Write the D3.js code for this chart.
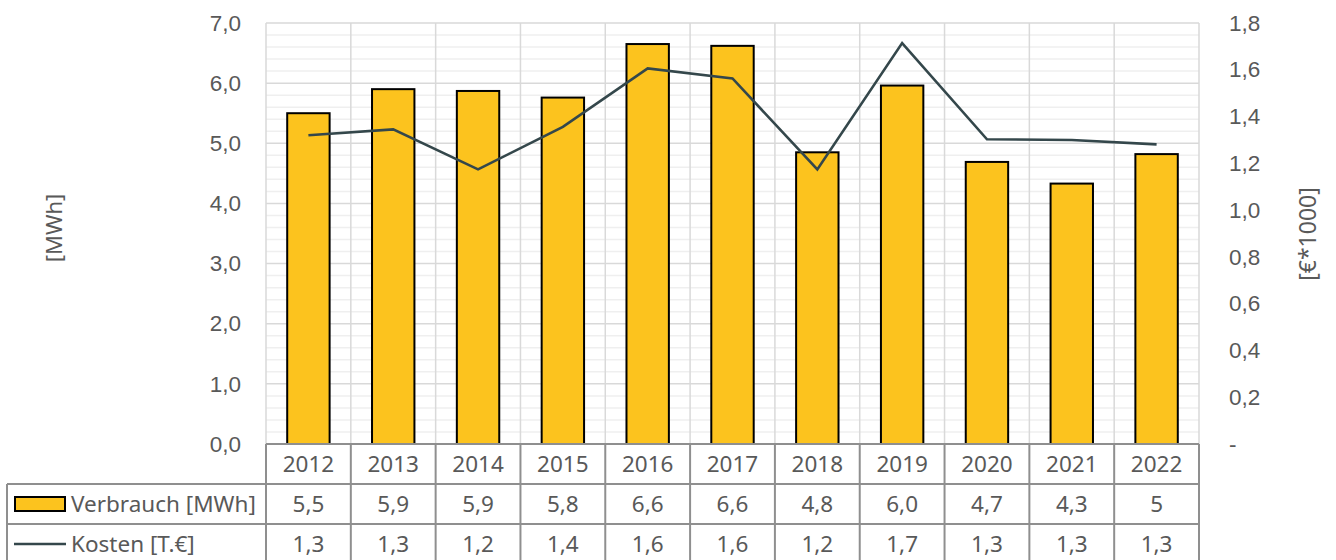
<!DOCTYPE html>
<html>
<head>
<meta charset="utf-8">
<script src="https://cdn.jsdelivr.net/npm/d3@7"></script>
<style>
  html, body { margin: 0; padding: 0; background: #fff; }
  svg { display: block; font-family: "Noto Sans", "DejaVu Sans", sans-serif; }
  .lbl { fill: #595959; font-size: 22.5px; }
</style>
</head>
<body>
<svg id="chart" width="1336" height="560"></svg>
<script>
// Jahre
const years = ["2012","2013","2014","2015","2016","2017","2018","2019","2020","2021","2022"];
// Stromverbrauch in MWh
const verbrauch = [5.50, 5.90, 5.87, 5.76, 6.65, 6.62, 4.85, 5.96, 4.69, 4.33, 4.82];
// Kosten in Tausend Euro
const kosten = [1.32, 1.345, 1.174, 1.356, 1.606, 1.563, 1.174, 1.714, 1.303, 1.30, 1.281];
// Werte in der Datentabelle
const verbrauchLabels = ["5,5","5,9","5,9","5,8","6,6","6,6","4,8","6,0","4,7","4,3","5"];
const kostenLabels = ["1,3","1,3","1,2","1,4","1,6","1,6","1,2","1,7","1,3","1,3","1,3"];
// Achsenticks
const leftTicks = [0, 1, 2, 3, 4, 5, 6, 7];
const rightTicks = [0, 0.2, 0.4, 0.6, 0.8, 1.0, 1.2, 1.4, 1.6, 1.8];
const seriesNames = ["Verbrauch [MWh]", "Kosten [T.€]"];

const de = d3.formatLocale({decimal: ",", thousands: ".", grouping: [3], currency: ["", " €"]});
const f1 = de.format(".1f");

const svg = d3.select("#chart");
const plot = {left: 266, right: 1199, top: 23, bottom: 444};
const rowH = 40;

const x = d3.scaleBand().domain(years).range([plot.left, plot.right]).padding(0);
const yL = d3.scaleLinear().domain([0, 7]).range([plot.bottom, plot.top]);
const yR = d3.scaleLinear().domain([0, 1.8]).range([plot.bottom, plot.top]);

const barColor = "#FCC31E";
const lineColor = "#34474B";
const gridMajor = "#d9d9d9";
const gridMinor = "#efefef";
const tableLine = "#8f8f8f";

// Hilfsgitter (0,2er Schritte)
const minorVals = d3.range(0, 7.0001, 0.2).filter(v => Math.abs(v - Math.round(v)) > 1e-6);
svg.append("g")
  .selectAll("line").data(minorVals).join("line")
  .attr("x1", plot.left).attr("x2", plot.right)
  .attr("y1", d => yL(d)).attr("y2", d => yL(d))
  .attr("stroke", gridMinor).attr("stroke-width", 1.5);

// Hauptgitter horizontal
svg.append("g")
  .selectAll("line").data(leftTicks).join("line")
  .attr("x1", plot.left).attr("x2", plot.right)
  .attr("y1", d => yL(d)).attr("y2", d => yL(d))
  .attr("stroke", gridMajor).attr("stroke-width", 1.5);

// Gitter vertikal an den Kategoriegrenzen
const bounds = years.map(y => x(y)).concat([plot.right]);
svg.append("g")
  .selectAll("line").data(bounds).join("line")
  .attr("x1", d => d).attr("x2", d => d)
  .attr("y1", plot.top).attr("y2", plot.bottom)
  .attr("stroke", gridMajor).attr("stroke-width", 1.5);

// Säulen
const bw = x.bandwidth() * 0.5;
svg.append("g")
  .selectAll("rect").data(years).join("rect")
  .attr("x", d => x(d) + (x.bandwidth() - bw) / 2)
  .attr("width", bw)
  .attr("y", (d, i) => yL(verbrauch[i]))
  .attr("height", (d, i) => yL(0) - yL(verbrauch[i]))
  .attr("fill", barColor)
  .attr("stroke", "#000").attr("stroke-width", 2);

// Kostenlinie
const line = d3.line()
  .x((d, i) => x(years[i]) + x.bandwidth() / 2)
  .y(d => yR(d));
svg.append("path")
  .datum(kosten)
  .attr("d", line)
  .attr("fill", "none")
  .attr("stroke", lineColor)
  .attr("stroke-width", 2.6)
  .attr("stroke-linejoin", "miter");

// Linke Achse
const axL = svg.append("g")
  .attr("transform", `translate(${plot.left},0)`)
  .call(d3.axisLeft(yL).tickValues(leftTicks).tickSize(0).tickPadding(25).tickFormat(f1));
axL.select(".domain").remove();
axL.selectAll("text").attr("class", "lbl").attr("font-size", null).attr("font-family", null);

// Rechte Achse
const axR = svg.append("g")
  .attr("transform", `translate(${plot.right},0)`)
  .call(d3.axisRight(yR).tickValues(rightTicks).tickSize(0).tickPadding(30)
    .tickFormat(d => d === 0 ? "-" : f1(d)));
axR.select(".domain").remove();
axR.selectAll("text").attr("class", "lbl").attr("font-size", null).attr("font-family", null);

// Achsentitel
svg.append("text").attr("class", "lbl")
  .attr("transform", "translate(62,228) rotate(-90)")
  .attr("text-anchor", "middle")
  .style("font-size", "22px")
  .text("[MWh]");
svg.append("text").attr("class", "lbl")
  .attr("transform", "translate(1316,234) rotate(-90)")
  .attr("text-anchor", "middle")
  .style("font-size", "23px")
  .text("[€*1000]");

// Datentabelle
const tbl = svg.append("g");
const legLeft = 7;
const r0 = plot.bottom, r1 = r0 + rowH, r2 = r1 + rowH, r3 = r2 + rowH;

// horizontale Linien
tbl.append("line").attr("x1", plot.left).attr("x2", plot.right).attr("y1", r0).attr("y2", r0);
tbl.append("line").attr("x1", legLeft).attr("x2", plot.right).attr("y1", r1).attr("y2", r1);
tbl.append("line").attr("x1", legLeft).attr("x2", plot.right).attr("y1", r2).attr("y2", r2);
tbl.append("line").attr("x1", legLeft).attr("x2", plot.right).attr("y1", r3).attr("y2", r3);
// vertikale Linien
tbl.selectAll("line.v").data(bounds).join("line").attr("class", "v")
  .attr("x1", d => d).attr("x2", d => d).attr("y1", r0).attr("y2", r3);
tbl.append("line").attr("x1", legLeft).attr("x2", legLeft).attr("y1", r1).attr("y2", r3);
tbl.selectAll("line").attr("stroke", tableLine).attr("stroke-width", 2);

const cx = d => x(d) + x.bandwidth() / 2;
tbl.append("g").selectAll("text").data(years).join("text")
  .attr("class", "lbl").attr("x", cx).attr("y", (r0 + r1) / 2 + 8)
  .attr("text-anchor", "middle").text(d => d);
tbl.append("g").selectAll("text").data(verbrauchLabels).join("text")
  .attr("class", "lbl").attr("x", (d, i) => cx(years[i])).attr("y", (r1 + r2) / 2 + 8)
  .attr("text-anchor", "middle").text(d => d);
tbl.append("g").selectAll("text").data(kostenLabels).join("text")
  .attr("class", "lbl").attr("x", (d, i) => cx(years[i])).attr("y", (r2 + r3) / 2 + 8)
  .attr("text-anchor", "middle").text(d => d);

// Legendenschlüssel
tbl.append("rect")
  .attr("x", 15).attr("y", (r1 + r2) / 2 - 7).attr("width", 50).attr("height", 14)
  .attr("fill", barColor).attr("stroke", "#000").attr("stroke-width", 2);
tbl.append("line")
  .attr("x1", 14).attr("x2", 66).attr("y1", (r2 + r3) / 2).attr("y2", (r2 + r3) / 2)
  .attr("stroke", lineColor).attr("stroke-width", 2.6);
tbl.append("text").attr("class", "lbl").attr("x", 71).attr("y", (r1 + r2) / 2 + 8).text(seriesNames[0]);
tbl.append("text").attr("class", "lbl").attr("x", 71).attr("y", (r2 + r3) / 2 + 8).text(seriesNames[1]);
</script>
</body>
</html>
